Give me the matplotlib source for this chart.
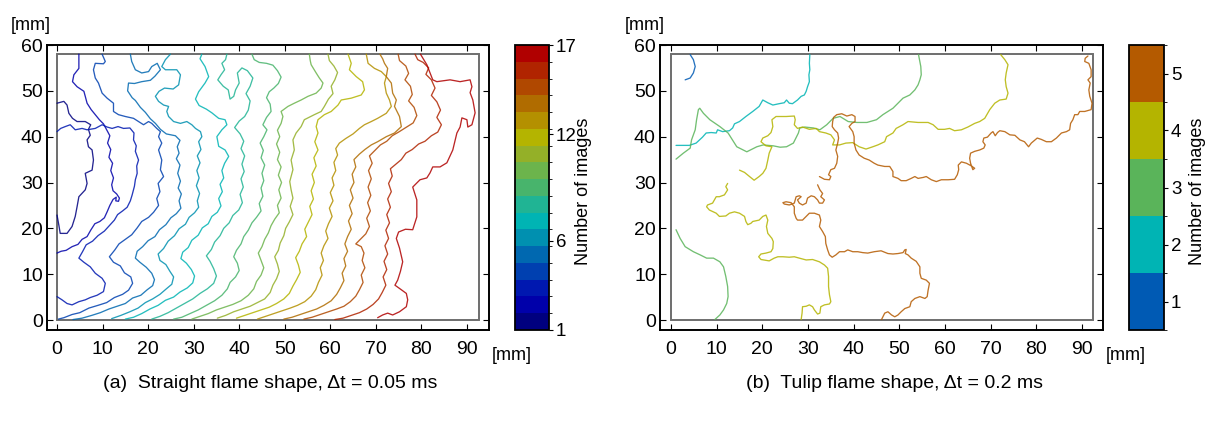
import matplotlib
matplotlib.use("Agg")
import matplotlib.pyplot as plt
from matplotlib.colors import ListedColormap, BoundaryNorm
from matplotlib.cm import ScalarMappable
from matplotlib.patches import Rectangle

plt.rcParams['font.family'] = ['Liberation Sans', 'DejaVu Sans']

# ---------------- data: panel (a) flame fronts, (x mm, y mm) ----------------
front_01 = [(0,47.3),(1.5,47.7),(2.2,46.9),(2.6,45.1),(3.4,44.0),(4.4,43.3),(6.2,43.3),(7.4,42.6),(6.9,41.6),(7.3,40.3),(6.6,39.3),(6.9,37.8),(7.7,37.1),(8.0,34.9),(7.7,32.7),(6.2,32.0),(6.6,29.8),(6.2,28.4),(4.8,26.9),(4.4,24.7),(4.0,22.6),(3.3,20.4),(2.2,18.9),(0.7,18.9),(0.4,20.7),(0,22.9)]
front_02 = [(4.8,58),(4.8,54.9),(3.7,53.5),(3.4,52.0),(4.4,50.9),(5.9,49.9),(6.2,48.8),(6.6,47.3),(7.5,45.9),(8.4,44.8),(9.3,43.7),(10.2,42.8),(10.9,41.5),(11.6,40.2),(11.1,38.6),(11.8,37.2),(11.4,35.5),(12.2,34.2),(11.8,32.6),(12.4,31.0),(12.0,29.5),(12.3,28.2),(13.1,27.5),(13.7,26.6),(13.5,25.9),(12.9,26.0),(13.0,26.8),(12.3,26.3),(11.6,25.0),(11.0,23.6),(10.4,22.3),(9.4,21.5),(8.3,21.0),(7.4,19.6),(6.6,18.2),(5.5,17.6),(4.6,16.5),(3.3,16.0),(2.0,15.2),(0.9,15.0),(0,14.6)]
front_03 = [(0,41.1),(0.8,41.8),(1.8,42.2),(2.9,42.6),(4.0,41.5),(5.5,41.8),(6.6,41.5),(8.4,41.8),(9.9,42.6),(11.0,42.1),(12.1,41.8),(13.4,42.2),(14.6,41.8),(16.0,41.9),(16.9,40.8),(16.8,39.3),(17.4,38.0),(17.2,36.8),(17.9,34.9),(17.5,33.6),(17.6,32.0),(17.2,30.6),(17.0,29.2),(16.5,27.3),(16.1,26.0),(15.4,24.6),(14.4,23.8),(13.3,23.0),(12.6,21.8),(11.5,20.6),(10.4,19.4),(9.0,18.4),(7.8,17.2),(6.4,16.4),(5.6,14.9),(4.8,13.5),(5.9,12.6),(7.3,11.6),(8.4,10.2),(9.9,9.1),(10.6,8.0),(10.2,6.2),(8.8,5.4),(7.3,4.9),(6.2,4.4),(4.8,4.0),(3.3,3.3),(2.2,3.6),(1.1,4.4),(0,5.1)]
front_04 = [(9.9,58),(10.6,56.4),(10.2,55.9),(8.4,56.0),(8.0,54.6),(8.4,52.8),(9.1,51.7),(9.9,49.5),(11.0,48.4),(12.4,47.3),(12.4,45.5),(13.5,44.8),(15.0,44.4),(16.8,44.0),(17.9,43.3),(19.0,42.6),(20.1,43.3),(20.8,42.9),(21.9,41.8),(22.7,41.1),(22.3,40.0),(23.0,38.6),(22.3,37.1),(23.0,34.9),(22.7,32.8),(23.4,31.3),(22.2,29.8),(22.6,28.0),(21.9,26.5),(22.3,25.0),(21.2,23.5),(20.1,22.4),(18.6,21.5),(17.6,20.1),(16.4,18.6),(15.0,17.6),(13.6,16.6),(12.7,15.3),(11.5,13.8),(12.4,12.6),(13.9,11.8),(14.8,10.3),(16.2,9.4),(16.6,8.0),(15.7,6.5),(14.4,5.6),(12.6,4.9),(10.9,3.8),(9.0,3.2),(7.0,2.6),(5.0,1.6),(3.3,1.2),(1.5,0.5),(0.3,0.2)]
front_05 = [(16.1,58),(16.4,56.4),(17.2,54.6),(18.6,53.9),(20.1,54.2),(20.8,55.3),(22.0,56.0),(22.7,54.6),(21.5,53.2),(20.5,52.3),(18.6,52.0),(17.0,51.6),(15.7,51.7),(15.5,50.0),(16.5,48.5),(17.2,47.9),(18.3,46.4),(19.4,45.3),(20.5,43.9),(21.6,42.9),(22.7,41.6),(24.0,40.6),(26.0,40.2),(27.0,39.2),(26.4,37.8),(26.8,36.4),(26.2,35.2),(27.0,33.8),(26.5,32.0),(27.1,30.3),(26.6,28.8),(27.3,27.5),(26.8,26.0),(27.2,24.4),(26.2,23.2),(25.0,22.3),(23.9,20.8),(22.5,19.7),(21.5,18.2),(20.0,17.3),(18.8,16.0),(17.6,15.0),(17.2,13.5),(18.2,12.6),(19.6,11.5),(20.8,10.2),(21.4,8.8),(21.0,7.5),(19.8,6.6),(18.4,5.4),(16.6,4.8),(15.0,3.6),(13.2,3.0),(11.4,2.4),(9.5,1.6),(7.6,1.0),(5.5,0.4),(3.5,0.1)]
front_06 = [(24.9,58),(23.8,56.8),(23.0,55.3),(23.8,54.6),(26.3,54.6),(27.1,53.5),(26.7,51.3),(25.5,50.4),(23.6,50.6),(22.4,49.9),(21.6,48.8),(22.3,47.7),(23.4,46.9),(24.5,46.6),(24.1,45.5),(24.5,44.4),(25.6,43.3),(27.1,42.9),(28.5,43.3),(29.6,42.6),(30.4,41.8),(31.5,41.1),(31.8,40.0),(31.1,38.9),(31.6,37.2),(30.8,35.8),(31.4,34.3),(30.7,32.6),(31.2,31.0),(30.6,29.3),(31.3,27.6),(30.8,26.0),(31.1,24.6),(30.2,23.4),(29.0,22.4),(28.2,20.9),(26.8,19.9),(25.8,18.4),(24.4,17.2),(23.4,15.6),(22.2,14.4),(22.6,13.0),(23.9,12.1),(24.8,10.6),(25.6,9.4),(25.2,7.8),(24.0,6.8),(22.6,5.6),(21.0,4.6),(19.4,3.8),(17.8,2.6),(16.0,1.8),(14.0,1.0),(12.0,0.3)]
front_07 = [(31.8,58),(31.4,57.0),(32.5,55.3),(33.3,53.1),(32.5,51.7),(31.1,49.8),(30.4,48.2),(31.2,46.8),(32.8,46.0),(34.0,45.2),(35.5,44.0),(36.9,43.7),(37.3,42.6),(36.2,41.5),(35.1,40.0),(35.5,37.9),(36.9,37.1),(37.7,35.7),(36.8,34.2),(36.2,32.6),(36.6,31.0),(35.8,29.6),(36.3,28.0),(35.5,26.5),(36.0,24.9),(35.2,23.5),(34.0,22.6),(33.2,21.0),(31.9,20.1),(31.0,18.5),(29.6,17.4),(28.8,15.8),(27.6,14.8),(27.2,13.4),(28.4,12.4),(29.5,11.0),(30.2,9.6),(29.8,8.1),(28.6,7.0),(27.0,6.1),(25.6,5.0),(23.8,4.3),(22.2,3.2),(20.4,2.4),(18.6,1.4),(16.8,0.6),(15.0,0.2)]
front_08 = [(37.3,58),(37.0,56.8),(36.2,56.0),(36.8,54.6),(36.0,53.5),(35.3,52.4),(36.5,51.0),(37.6,50.2),(38.0,48.2),(38.8,48.8),(39.2,50.2),(40.0,51.7),(39.6,53.9),(40.6,55.0),(41.8,54.4),(43.0,52.8),(42.4,51.0),(41.5,49.4),(42.4,47.8),(42.0,45.8),(41.2,44.4),(40.0,43.4),(39.0,42.0),(40.2,40.6),(41.0,39.0),(40.4,37.4),(41.2,35.8),(40.6,34.0),(41.1,32.4),(40.4,30.8),(40.9,29.0),(40.2,27.4),(40.7,25.6),(39.9,24.0),(38.6,22.8),(37.8,21.2),(36.6,20.0),(35.8,18.4),(34.6,17.0),(33.9,15.4),(32.8,14.0),(33.6,12.8),(34.4,11.2),(35.0,9.6),(34.4,8.0),(33.0,6.8),(31.4,5.8),(29.8,4.6),(28.0,3.6),(26.2,2.6),(24.4,1.6),(22.6,0.8),(20.8,0.2)]
front_09 = [(42.8,58),(43.3,56.8),(44.4,56.2),(46.0,56.0),(47.4,55.6),(48.4,54.4),(49.2,53.0),(48.6,51.6),(47.6,50.6),(46.6,49.8),(46.0,48.5),(46.8,47.1),(47.0,45.5),(46.0,44.2),(45.2,42.6),(46.1,41.5),(45.4,40.0),(44.6,38.6),(45.3,37.0),(44.8,35.4),(45.6,33.8),(45.0,32.0),(45.4,30.4),(44.8,28.8),(45.2,27.0),(44.4,25.4),(44.8,23.8),(43.8,22.4),(42.8,21.2),(42.0,19.6),(41.0,18.2),(40.4,16.6),(39.4,15.2),(38.8,13.8),(39.6,12.4),(40.0,10.8),(39.2,9.4),(38.0,8.2),(37.4,6.8),(36.2,5.4),(34.6,4.2),(32.8,3.2),(31.0,2.2),(29.2,1.4),(27.4,0.6),(25.6,0.2)]
front_10 = [(55.4,58),(55.6,56.6),(55.8,55.7),(56.9,53.9),(57.6,52.8),(58.4,51.7),(58.0,50.6),(56.9,49.5),(55.1,48.8),(53.6,48.0),(52.1,47.3),(50.7,46.6),(49.2,45.5),(49.6,44.4),(49.2,42.9),(48.4,41.4),(48.9,40.0),(48.2,38.4),(48.9,36.6),(48.4,35.0),(49.2,33.4),(48.6,31.6),(49.3,30.0),(48.7,28.4),(49.2,26.6),(48.4,25.0),(48.8,23.4),(47.8,22.0),(47.0,20.6),(46.4,19.0),(45.6,17.6),(45.0,16.0),(44.2,14.6),(44.8,13.0),(45.4,11.4),(44.8,9.8),(43.8,8.4),(43.2,6.8),(42.0,5.4),(40.4,4.2),(38.6,3.4),(36.8,2.8),(35.0,2.2),(33.2,1.4),(31.4,0.8),(29.6,0.2)]
front_11 = [(59.5,58),(59.8,56.6),(60.8,55.4),(61.6,54.0),(61.0,52.4),(60.2,51.0),(60.6,49.4),(59.6,48.2),(58.7,46.6),(58.0,45.5),(56.5,44.8),(54.3,43.7),(53.6,42.2),(52.5,40.8),(51.8,39.3),(52.1,37.1),(51.4,34.9),(51.8,32.8),(51.1,30.2),(51.4,28.4),(51.8,26.6),(51.2,24.8),(51.8,23.0),(51.0,21.4),(50.2,20.0),(49.8,18.4),(49.0,16.8),(48.6,15.2),(47.8,13.8),(48.4,12.2),(48.8,10.6),(48.2,9.0),(47.4,7.6),(46.8,6.0),(45.6,4.6),(44.0,3.8),(42.4,3.0),(40.6,2.4),(38.8,1.8),(37.0,1.0),(35.2,0.4)]
front_12 = [(63.9,58),(64.6,56.0),(64.2,54.6),(65.7,53.1),(67.1,52.0),(67.5,50.2),(66.8,49.1),(64.6,48.4),(62.4,48.0),(61.7,46.9),(60.2,45.5),(58.7,44.8),(57.3,43.7),(56.9,42.2),(57.3,40.8),(56.6,38.9),(57.3,37.1),(56.4,35.4),(56.9,33.6),(56.0,31.8),(56.5,30.0),(55.8,28.2),(56.3,26.4),(55.5,24.8),(56.0,23.0),(55.2,21.4),(54.4,19.8),(54.8,18.2),(53.8,16.6),(53.2,15.0),(52.4,13.6),(53.0,12.0),(53.4,10.4),(52.6,8.8),(51.8,7.4),(51.0,5.8),(49.8,4.6),(48.2,3.6),(46.6,2.8),(44.8,2.2),(43.0,1.6),(41.2,1.0),(39.4,0.4)]
front_13 = [(67.9,58),(68.3,56.0),(69.7,54.9),(71.2,54.2),(72.3,53.1),(71.9,51.7),(72.3,49.5),(73.0,48.0),(73.4,46.6),(72.3,45.1),(70.4,44.0),(69.0,43.3),(67.5,42.6),(66.4,41.8),(65.0,40.6),(63.4,39.6),(62.0,38.6),(61.2,37.4),(61.6,36.0),(60.8,34.4),(61.2,32.6),(60.4,31.0),(60.8,29.4),(60.0,27.8),(60.6,26.0),(59.8,24.4),(60.4,22.6),(59.6,21.0),(59.0,19.4),(59.5,17.8),(58.6,16.2),(58.0,14.6),(58.5,13.0),(57.8,11.4),(58.2,9.8),(57.4,8.2),(56.8,6.6),(55.8,5.2),(54.4,4.0),(52.8,3.2),(51.2,2.6),(49.4,2.0),(47.6,1.4),(45.8,0.8),(44.0,0.2)]
front_14 = [(70.9,58),(71.5,57.0),(71.9,56.0),(72.6,54.9),(72.3,53.1),(73.4,51.7),(73.7,49.5),(74.5,48.0),(74.1,46.6),(75.2,44.4),(75.6,42.2),(74.1,40.8),(72.3,40.0),(70.4,38.9),(69.0,38.2),(67.6,37.2),(66.4,36.2),(65.2,35.0),(65.6,33.4),(64.8,31.8),(65.2,30.0),(64.4,28.4),(65.0,26.6),(64.2,25.0),(64.8,23.2),(64.0,21.6),(64.6,19.8),(63.8,18.2),(63.2,16.6),(63.8,15.0),(63.0,13.4),(63.4,11.8),(62.6,10.2),(63.0,8.6),(62.2,7.0),(61.4,5.6),(60.2,4.2),(58.6,3.2),(57.0,2.4),(55.2,1.8),(53.4,1.2),(51.6,0.6),(49.8,0.2)]
front_15 = [(74.9,58),(75.2,56.6),(76.6,55.4),(77.2,53.8),(76.4,52.4),(77.6,51.0),(78.0,49.2),(77.2,47.8),(78.4,46.4),(79.0,44.6),(78.2,43.0),(76.6,42.0),(75.0,41.0),(73.6,40.2),(72.4,39.0),(71.0,38.2),(69.8,37.0),(68.6,35.8),(69.2,34.2),(68.4,32.6),(69.0,30.8),(68.3,29.0),(68.9,27.2),(68.2,25.6),(68.8,23.8),(68.0,22.2),(68.6,20.4),(67.8,18.8),(66.8,17.8),(65.6,16.6),(66.8,16.0),(67.4,14.6),(67.0,13.0),(67.6,11.4),(66.8,9.8),(67.2,8.2),(66.4,6.6),(65.6,5.2),(64.4,4.0),(63.0,3.0),(61.4,2.4),(59.6,1.8),(57.8,1.2),(56.0,0.6),(54.2,0.2)]
front_16 = [(78.6,58),(79.2,56.8),(80.4,56.2),(81.6,55.0),(81.0,53.6),(82.2,52.4),(83.0,50.6),(82.2,49.0),(83.4,47.6),(84.2,45.8),(83.4,44.2),(84.4,42.6),(83.6,41.0),(82.2,40.2),(80.8,39.0),(79.4,38.4),(78.0,37.2),(76.6,36.4),(75.6,35.0),(74.4,34.0),(73.2,33.0),(73.6,31.4),(72.8,29.8),(73.4,28.0),(72.6,26.4),(73.2,24.6),(72.4,23.0),(73.0,21.2),(72.2,19.6),(72.8,17.8),(72.0,16.2),(72.6,14.4),(71.8,12.8),(72.4,11.0),(71.6,9.4),(72.2,7.6),(71.4,6.0),(70.6,4.6),(69.4,3.4),(68.0,2.4),(66.4,1.6),(64.6,1.0),(62.8,0.4),(61.0,0.1)]
front_17 = [(79.8,58),(81.2,55.7),(82.5,52.4),(83.4,52.0),(86.3,52.4),(88.5,52.0),(90.7,52.4),(91.1,50.9),(90.7,49.6),(91.3,48.0),(91.8,45.2),(91.1,42.6),(90.2,42.1),(90.0,43.7),(88.9,44.1),(88.5,42.1),(87.8,40.8),(86.9,37.1),(85.6,34.3),(84.1,33.4),(82.5,33.4),(81.9,32.1),(81.2,31.0),(79.7,30.6),(78.1,29.0),(79.0,26.2),(79.0,22.5),(78.1,19.7),(76.5,19.8),(75.0,19.2),(74.5,17.8),(75.2,15.7),(75.9,12.7),(75.4,10.6),(74.8,8.7),(74.2,7.6),(75.6,6.6),(76.7,5.8),(77.0,4.4),(76.7,2.9),(75.2,1.8),(73.7,1.1),(72.6,1.5),(71.5,1.1),(70.4,0.5)]

fronts_a = [front_01, front_02, front_03, front_04, front_05, front_06, front_07, front_08, front_09,
            front_10, front_11, front_12, front_13, front_14, front_15, front_16, front_17]
image_no_a = list(range(1, 18))
colors_a = ['#00007f', '#0000aa', '#0018b0', '#0040b0', '#0068b0', '#0090b0', '#00b4b4', '#20b494',
            '#48b46c', '#6cb44c', '#94b028', '#b4b400', '#b49000', '#b06c00', '#b04800', '#b02400', '#b00000']
cbar_ticks_a = [1, 6, 12, 17]

# ---------------- data: panel (b) flame fronts ----------------
tulip_1 = [(4.2,57.9),(4.9,56.8),(5.3,55.3),(4.9,53.9),(4.2,52.8),(3.1,52.4)]
tulip_2 = [(1.1,38.1),(4.0,38.1),(5.5,38.6),(6.9,39.9),(7.7,40.8),(8.8,40.9),(9.9,40.8),(10.2,41.5),(11.3,41.1),(12.8,41.3),(13.5,41.9),(13.9,42.8),(15.0,43.3),(16.4,44.4),(17.9,45.5),(19.3,46.6),(20.1,48.0),(21.2,47.4),(22.3,46.9),(23.7,47.2),(24.8,47.4),(25.3,48.0),(25.9,47.3),(26.6,47.2),(27.7,48.0),(28.5,48.8),(29.2,49.1),(29.6,49.9),(29.9,50.9),(30.3,52.0),(30.2,53.5),(30.4,54.6),(30.3,56.0),(30.4,57.9)]
tulip_3a = [(1.1,35.1),(2.7,36.4),(4.2,37.5),(4.5,39.3),(5.3,41.5),(5.6,43.7),(6.0,45.9),(6.3,46.2),(7.1,45.1),(8.5,43.7),(10.7,42.2),(12.5,40.8),(14.4,37.8),(16.6,36.7),(18.8,37.8),(20.2,38.2),(22.4,38.0),(23.9,37.7),(25.3,37.8),(26.8,38.6),(27.9,40.8),(28.2,41.9),(29.3,42.1),(31.2,41.9),(32.6,41.5),(34.1,42.6),(35.5,44.0),(37.0,44.4),(38.8,43.3),(40.7,43.1),(42.9,43.1),(45.0,43.7),(46.4,44.8),(47.5,45.5),(48.6,46.2),(49.7,47.3),(50.8,48.4),(52.3,49.1),(53.4,50.2),(54.1,51.3),(54.5,52.4),(54.8,53.5),(54.7,55.3),(54.2,57.9)]
tulip_3b = [(1.1,19.7),(2.0,17.8),(3.1,16.0),(4.9,14.9),(6.4,14.2),(7.8,13.5),(9.3,13.5),(10.7,12.7),(11.5,11.6),(12.0,9.5),(12.4,7.3),(12.5,5.1),(12.2,3.6),(11.5,2.2),(10.7,1.1),(9.6,0.1)]
tulip_4a = [(15.0,32.7),(16.1,32.2),(17.2,31.3),(18.2,30.5),(19.3,31.3),(20.1,32.0),(20.8,33.1),(21.2,34.9),(21.5,36.4),(22.1,37.8),(20.8,38.0),(19.7,38.9),(20.1,39.7),(21.2,40.2),(21.9,40.9),(22.3,42.2),(22.1,43.7),(23.0,44.4),(25.2,44.4),(27.0,44.5),(27.2,43.7),(27.0,42.6),(27.7,41.8),(28.8,42.1),(30.3,41.6),(31.8,41.8),(32.5,41.1),(33.9,40.8),(35.0,40.4),(35.8,39.3),(35.4,38.2),(36.9,38.2),(38.3,38.6),(39.8,38.7),(41.2,37.8),(42.7,37.3),(44.2,37.8),(45.3,38.2),(46.8,38.9),(47.2,40.0),(48.6,40.8),(49.3,41.8),(50.8,42.6),(51.9,43.3),(54.1,43.1),(56.3,43.1),(57.4,42.6),(58.5,41.6),(59.9,41.6),(61.0,41.8),(62.1,41.3),(63.6,41.5),(65.0,42.1),(66.5,42.9),(67.6,43.3),(68.7,44.0),(69.8,45.9),(70.9,47.3),(72.0,48.0),(73.4,48.2),(73.8,49.5),(73.4,50.9),(73.2,52.4),(73.4,53.9),(73.8,55.7),(73.1,56.8),(72.2,57.9)]
tulip_4b = [(12.4,29.8),(12.0,29.1),(12.4,28.4),(11.7,27.3),(10.6,26.9),(9.9,26.9),(9.5,26.2),(9.1,25.5),(8.0,25.1),(7.8,24.7),(8.4,24.0),(9.9,23.3),(10.6,22.6),(12.0,22.7),(12.8,23.3),(13.9,23.6),(15.0,23.3),(16.1,22.6),(16.4,21.5),(16.8,20.8),(17.5,21.1),(17.9,21.5),(19.3,21.8),(20.1,22.6),(20.8,22.9),(21.2,21.8),(20.9,20.4),(21.2,18.9),(22.1,17.8),(22.4,17.1),(22.3,15.6),(21.9,14.9),(20.8,14.6),(19.7,14.4),(19.2,13.8),(19.7,13.2),(21.5,12.9),(22.6,13.5),(23.4,13.8),(24.5,13.8),(25.9,13.7),(27.0,13.8),(28.1,13.5),(29.6,13.1),(31.0,13.2),(32.5,12.7),(33.6,12.0),(34.3,11.3),(34.5,9.5),(34.5,7.3),(34.7,5.5),(35.0,4.0),(34.7,3.5),(33.6,3.3),(32.8,2.9),(32.6,1.5),(32.1,1.3),(31.4,2.2),(31.0,2.9),(30.3,3.3),(29.6,3.0),(28.8,2.9),(28.7,1.5),(28.5,0.1)]
tulip_5a = [(32.5,31.3),(33.6,30.7),(34.7,30.6),(35.0,31.3),(34.5,31.7),(35.0,32.8),(35.8,33.1),(36.3,34.2),(36.5,35.7),(36.1,37.1),(36.5,38.6),(36.7,39.7),(36.5,40.8),(35.8,41.5),(35.3,42.2),(35.4,43.3),(35.6,44.2),(36.3,44.8),(37.4,45.0),(38.5,44.5),(39.6,44.8),(40.3,44.4),(40.3,43.3),(39.6,42.9),(39.0,42.2),(39.8,41.1),(40.1,40.0),(40.1,38.6),(40.5,37.1),(41.2,36.0),(42.3,35.3),(43.4,34.9),(44.5,34.2),(45.3,33.8),(46.8,33.5),(47.9,33.5),(48.6,32.4),(48.6,31.3),(49.7,30.9),(50.4,30.4),(51.5,30.4),(52.6,30.9),(53.4,31.3),(54.1,30.9),(55.2,31.1),(55.9,31.3),(57.0,30.6),(58.1,30.2),(59.2,30.6),(60.7,30.6),(62.1,30.7),(62.7,31.7),(63.0,32.8),(62.9,33.8),(63.6,34.5),(64.7,34.2),(65.8,33.6),(66.5,33.1),(66.1,32.8),(65.6,34.2),(65.4,35.3),(65.6,36.4),(66.5,36.8),(67.6,37.1),(68.5,37.5),(68.8,38.2),(68.3,38.9),(68.5,39.7),(69.3,39.9),(70.1,40.8),(70.5,41.1),(71.0,40.2),(71.5,40.9),(72.0,41.3),(73.1,41.1),(74.2,40.4),(75.3,40.3),(76.4,39.3),(77.4,38.9),(78.3,37.8),(78.9,38.6),(80.2,39.7),(81.1,39.4),(82.2,38.9),(83.3,38.9),(84.4,39.7),(85.5,40.8),(86.6,41.1),(87.3,41.5),(87.5,42.9),(88.0,43.7),(88.4,44.8),(89.1,44.8),(89.5,45.5),(90.6,45.5),(92.0,45.9),(92.2,47.3),(91.7,48.8),(91.5,50.2),(91.8,51.7),(91.3,52.4),(92.0,53.1),(92.0,54.6),(91.5,56.0),(90.6,56.4),(90.7,57.1),(91.3,57.6)]
tulip_5b = [(32.1,29.5),(32.6,28.4),(33.2,27.6),(32.8,26.9),(33.6,26.2),(33.2,25.5),(32.5,25.5),(32.1,26.2),(31.4,26.9),(30.7,27.1),(29.9,26.6),(29.6,25.5),(28.8,25.1),(28.1,25.5),(27.7,26.2),(28.5,26.9),(28.1,27.1),(27.4,26.9),(27.0,25.5),(25.9,25.1),(24.8,25.3),(24.5,25.6),(25.2,25.8),(26.3,25.6),(27.0,24.7),(27.0,23.3),(27.4,22.2),(27.7,21.8),(28.8,21.8),(29.6,22.6),(30.3,23.3),(31.4,23.3),(32.5,22.9),(32.8,21.8),(32.5,20.4),(33.2,19.3),(33.8,18.2),(33.9,16.7),(34.3,15.3),(34.7,14.2),(35.3,13.7),(36.1,14.2),(36.9,14.9),(38.0,14.9),(38.7,15.3),(39.8,14.9),(40.9,14.9),(42.0,14.7),(43.1,14.6),(44.5,14.9),(46.0,15.1),(47.5,14.5),(48.6,14.4),(49.7,14.5),(50.8,14.7),(51.2,15.3),(51.5,15.4),(51.3,14.5),(51.9,14.2),(52.6,13.5),(53.7,12.8),(54.5,11.6),(54.5,10.2),(54.8,9.1),(55.9,8.7),(56.6,8.0),(56.3,6.5),(56.1,5.1),(55.6,4.7),(54.5,5.1),(53.4,4.7),(52.6,4.0),(52.3,2.9),(51.2,2.5),(50.4,1.8),(49.7,1.1),(49.0,0.7),(48.3,1.1),(47.5,1.8),(46.8,1.5),(46.4,0.7),(46.1,0.1)]

fronts_b = [tulip_1, tulip_2, tulip_3a, tulip_3b, tulip_4a, tulip_4b, tulip_5a, tulip_5b]
image_no_b = [1, 2, 3, 3, 4, 4, 5, 5]
colors_b = ['#005ab4', '#00b4b4', '#5ab45a', '#b4b400', '#b45a00']
cbar_ticks_b = [1, 2, 3, 4, 5]

domain_a = (92.7, 58.0)
domain_b = (92.4, 58.1)
xticks = list(range(0, 91, 10))
yticks = list(range(0, 61, 10))

# ---------------- figure ----------------
W, H = 1210, 422
fig = plt.figure(figsize=(W / 100, H / 100), dpi=100)


def fx(px):
    return px / W


def fy(py):
    return 1 - py / H


def setup_axes(ax, xlim, ylim, domain):
    ax.set_xlim(*xlim)
    ax.set_ylim(*ylim)
    ax.set_xticks(xticks)
    ax.set_yticks(yticks)
    ax.tick_params(direction='in', top=True, right=True, length=4, width=0.8,
                   labelsize=14, colors='black')
    ax.tick_params(axis='x', pad=8)
    ax.tick_params(axis='y', pad=3)
    for s in ax.spines.values():
        s.set_linewidth(1.4)
    ax.add_patch(Rectangle((0, 0), domain[0], domain[1], fill=False,
                           edgecolor='#6e6e6e', linewidth=1.4, zorder=1))


axA = fig.add_axes([fx(47), fy(330), fx(489) - fx(47), fy(45) - fy(330)])
setup_axes(axA, (-2.2, 94.85), (-2.18, 60), domain_a)
for pts, n in zip(fronts_a, image_no_a):
    xs, ys = zip(*pts)
    axA.plot(xs, ys, color=colors_a[n - 1], lw=0.95, alpha=0.85, zorder=2,
             solid_joinstyle='round', solid_capstyle='round')

axB = fig.add_axes([fx(660), fy(330), fx(1103) - fx(660), fy(45) - fy(330)])
setup_axes(axB, (-2.41, 94.6), (-2.18, 60), domain_b)
for pts, n in zip(fronts_b, image_no_b):
    xs, ys = zip(*pts)
    axB.plot(xs, ys, color=colors_b[n - 1], lw=0.95, alpha=0.85, zorder=2,
             solid_joinstyle='round', solid_capstyle='round')

# colorbars
caxA = fig.add_axes([fx(515), fy(330), fx(549) - fx(515), fy(45) - fy(330)])
cmapA = ListedColormap(colors_a)
normA = BoundaryNorm([1 + i * 16 / 17 for i in range(18)], cmapA.N)
cbA = fig.colorbar(ScalarMappable(norm=normA, cmap=cmapA), cax=caxA, ticks=cbar_ticks_a)
cbA.ax.tick_params(labelsize=13.5, length=3, width=0.8, pad=2)
cbA.outline.set_linewidth(1.3)

caxB = fig.add_axes([fx(1129), fy(330), fx(1164) - fx(1129), fy(45) - fy(330)])
cmapB = ListedColormap(colors_b)
normB = BoundaryNorm([0.5, 1.5, 2.5, 3.5, 4.5, 5.5], cmapB.N)
cbB = fig.colorbar(ScalarMappable(norm=normB, cmap=cmapB), cax=caxB, ticks=cbar_ticks_b)
cbB.ax.tick_params(labelsize=13.5, length=3, width=0.8, pad=2)
cbB.outline.set_linewidth(1.3)

fig.text(fx(584), fy(191), 'Number of images', rotation=90, ha='center', va='center', fontsize=13)
fig.text(fx(1197), fy(191), 'Number of images', rotation=90, ha='center', va='center', fontsize=13)

# unit labels
fig.text(fx(31), fy(25), '[mm]', ha='center', va='center', fontsize=13)
fig.text(fx(645), fy(25), '[mm]', ha='center', va='center', fontsize=13)
fig.text(fx(512), fy(356), '[mm]', ha='center', va='center', fontsize=13)
fig.text(fx(1126), fy(356), '[mm]', ha='center', va='center', fontsize=13)

# captions
fig.text(fx(270), fy(384), '(a)  Straight flame shape, \u0394t = 0.05 ms', ha='center', va='center', fontsize=14)
fig.text(fx(895), fy(384), '(b)  Tulip flame shape, \u0394t = 0.2 ms', ha='center', va='center', fontsize=14)

fig.savefig('out.png', dpi=100)
